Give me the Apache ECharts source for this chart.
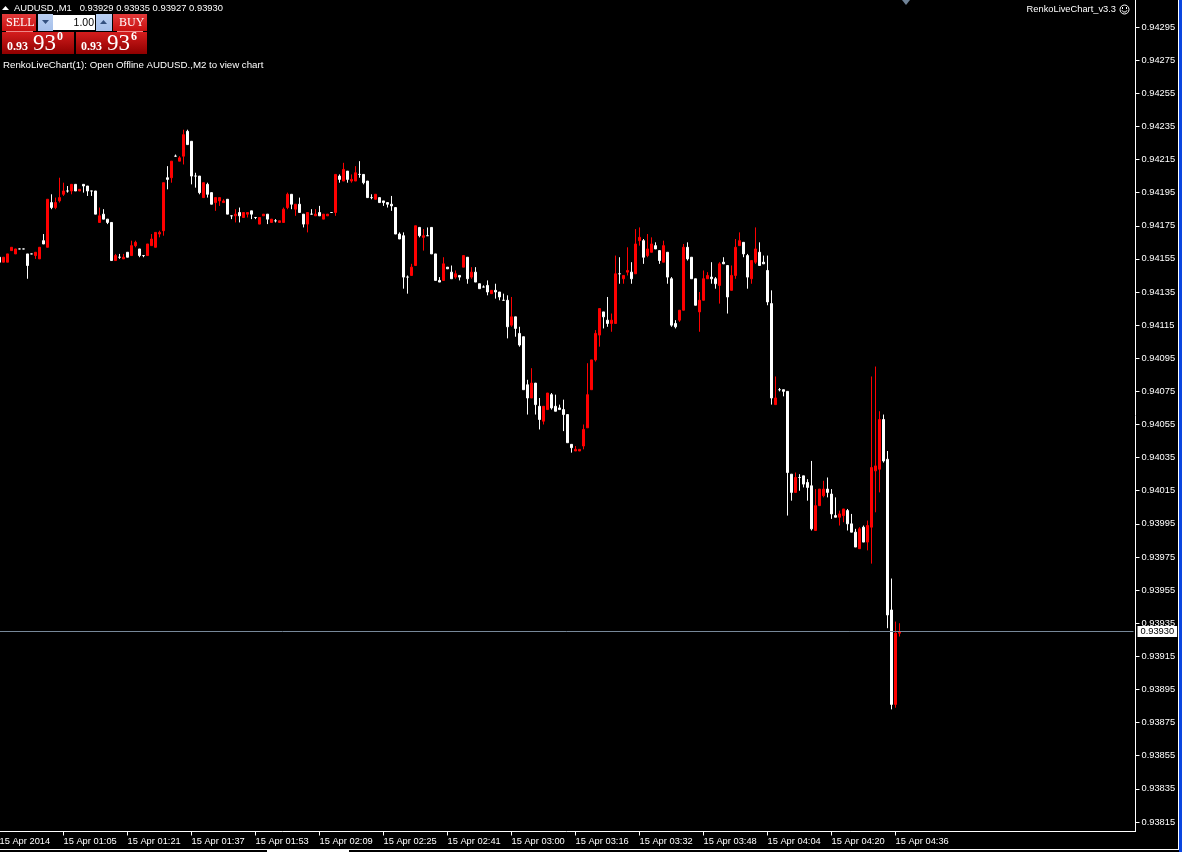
<!DOCTYPE html>
<html>
<head>
<meta charset="utf-8">
<style>html,body{margin:0;padding:0;background:#000;overflow:hidden}#c{width:1182px;height:852px}</style>
<script src="https://cdn.jsdelivr.net/npm/echarts@6/dist/echarts.min.js"></script>
</head>
<body>
<div id="c"></div>
<script>
const opens=[0.94156,0.94153,0.94153,0.94160,0.94158,0.94161,0.94161,0.94158,0.94158,0.94157,0.94155,0.94166,0.94162,0.94189,0.94186,0.94190,0.94194,0.94196,0.94196,0.94200,0.94196,0.94200,0.94199,0.94196,0.94196,0.94177,0.94182,0.94179,0.94177,0.94154,0.94156,0.94155,0.94159,0.94157,0.94163,0.94161,0.94157,0.94157,0.94163,0.94162,0.94170,0.94172,0.94204,0.94204,0.94217,0.94214,0.94217,0.94232,0.94226,0.94205,0.94205,0.94192,0.94200,0.94195,0.94189,0.94190,0.94189,0.94191,0.94181,0.94181,0.94183,0.94180,0.94182,0.94184,0.94180,0.94176,0.94181,0.94182,0.94177,0.94178,0.94177,0.94177,0.94186,0.94194,0.94185,0.94188,0.94182,0.94176,0.94182,0.94181,0.94183,0.94179,0.94181,0.94183,0.94183,0.94205,0.94202,0.94208,0.94202,0.94202,0.94206,0.94206,0.94202,0.94192,0.94191,0.94192,0.94190,0.94189,0.94188,0.94186,0.94170,0.94169,0.94144,0.94145,0.94151,0.94174,0.94168,0.94169,0.94174,0.94158,0.94142,0.94142,0.94150,0.94147,0.94144,0.94145,0.94150,0.94156,0.94144,0.94147,0.94140,0.94138,0.94139,0.94134,0.94136,0.94135,0.94130,0.94130,0.94115,0.94120,0.94110,0.94108,0.94079,0.94071,0.94080,0.94066,0.94057,0.94064,0.94073,0.94066,0.94065,0.94064,0.94061,0.94043,0.94039,0.94039,0.94042,0.94053,0.94076,0.94094,0.94109,0.94123,0.94118,0.94116,0.94116,0.94146,0.94143,0.94147,0.94147,0.94146,0.94166,0.94166,0.94157,0.94159,0.94163,0.94160,0.94153,0.94159,0.94143,0.94116,0.94118,0.94124,0.94162,0.94156,0.94143,0.94123,0.94130,0.94143,0.94144,0.94143,0.94139,0.94153,0.94151,0.94136,0.94145,0.94163,0.94165,0.94157,0.94143,0.94153,0.94159,0.94153,0.94148,0.94128,0.94067,0.94076,0.94076,0.94075,0.94025,0.94014,0.94023,0.94024,0.94020,0.94018,0.93991,0.94006,0.94012,0.94016,0.94013,0.94000,0.93999,0.94000,0.94003,0.93995,0.93990,0.93980,0.93993,0.93984,0.93993,0.94027,0.94028,0.94058,0.94034,0.93943,0.93886,0.93929];
const closes=[0.94153,0.94156,0.94158,0.94162,0.94161,0.94161,0.94161,0.94151,0.94158,0.94159,0.94162,0.94164,0.94191,0.94186,0.94189,0.94192,0.94196,0.94196,0.94200,0.94196,0.94197,0.94199,0.94196,0.94196,0.94182,0.94181,0.94179,0.94177,0.94154,0.94157,0.94156,0.94156,0.94156,0.94163,0.94165,0.94157,0.94157,0.94164,0.94167,0.94171,0.94171,0.94201,0.94203,0.94214,0.94217,0.94216,0.94230,0.94224,0.94205,0.94205,0.94195,0.94201,0.94194,0.94188,0.94192,0.94192,0.94190,0.94182,0.94181,0.94182,0.94181,0.94183,0.94183,0.94182,0.94180,0.94180,0.94182,0.94179,0.94179,0.94178,0.94178,0.94185,0.94194,0.94188,0.94188,0.94183,0.94176,0.94183,0.94182,0.94182,0.94181,0.94182,0.94182,0.94183,0.94206,0.94203,0.94209,0.94203,0.94203,0.94207,0.94206,0.94201,0.94192,0.94192,0.94194,0.94189,0.94189,0.94188,0.94187,0.94170,0.94167,0.94144,0.94144,0.94150,0.94175,0.94169,0.94169,0.94169,0.94158,0.94142,0.94141,0.94152,0.94149,0.94143,0.94146,0.94144,0.94157,0.94143,0.94147,0.94141,0.94137,0.94138,0.94135,0.94136,0.94135,0.94132,0.94130,0.94114,0.94120,0.94113,0.94103,0.94076,0.94071,0.94080,0.94067,0.94058,0.94066,0.94074,0.94065,0.94063,0.94064,0.94061,0.94044,0.94041,0.94040,0.94040,0.94052,0.94073,0.94094,0.94110,0.94125,0.94120,0.94116,0.94118,0.94146,0.94146,0.94145,0.94148,0.94143,0.94164,0.94168,0.94156,0.94161,0.94164,0.94161,0.94154,0.94163,0.94144,0.94115,0.94114,0.94124,0.94162,0.94155,0.94143,0.94127,0.94130,0.94143,0.94145,0.94143,0.94140,0.94152,0.94152,0.94132,0.94145,0.94162,0.94166,0.94158,0.94144,0.94154,0.94161,0.94151,0.94152,0.94129,0.94071,0.94071,0.94076,0.94075,0.94026,0.94014,0.94023,0.94023,0.94019,0.94017,0.93992,0.94006,0.94016,0.94016,0.94014,0.94001,0.93999,0.94001,0.94004,0.93995,0.93990,0.93981,0.93992,0.93984,0.93994,0.94029,0.94030,0.94058,0.94033,0.93940,0.93886,0.93929,0.93930];
const lows=[0.94153,0.94153,0.94153,0.94160,0.94158,0.94161,0.94161,0.94143,0.94158,0.94155,0.94155,0.94164,0.94162,0.94185,0.94185,0.94189,0.94193,0.94195,0.94194,0.94196,0.94196,0.94195,0.94193,0.94193,0.94182,0.94177,0.94179,0.94176,0.94154,0.94154,0.94155,0.94155,0.94156,0.94157,0.94162,0.94156,0.94156,0.94157,0.94163,0.94162,0.94168,0.94169,0.94197,0.94201,0.94217,0.94214,0.94212,0.94224,0.94200,0.94198,0.94194,0.94192,0.94192,0.94188,0.94184,0.94187,0.94189,0.94182,0.94179,0.94177,0.94177,0.94180,0.94180,0.94179,0.94179,0.94176,0.94181,0.94176,0.94177,0.94177,0.94177,0.94177,0.94185,0.94185,0.94181,0.94183,0.94174,0.94171,0.94182,0.94181,0.94181,0.94179,0.94181,0.94183,0.94181,0.94201,0.94202,0.94201,0.94201,0.94202,0.94204,0.94200,0.94192,0.94191,0.94191,0.94189,0.94187,0.94186,0.94184,0.94170,0.94167,0.94137,0.94134,0.94145,0.94151,0.94168,0.94160,0.94169,0.94158,0.94142,0.94141,0.94142,0.94149,0.94143,0.94143,0.94142,0.94150,0.94140,0.94143,0.94141,0.94137,0.94138,0.94133,0.94134,0.94131,0.94130,0.94130,0.94107,0.94114,0.94108,0.94102,0.94076,0.94061,0.94071,0.94061,0.94052,0.94055,0.94064,0.94064,0.94063,0.94064,0.94051,0.94044,0.94038,0.94039,0.94039,0.94040,0.94053,0.94076,0.94093,0.94102,0.94113,0.94114,0.94111,0.94116,0.94140,0.94140,0.94145,0.94140,0.94146,0.94163,0.94152,0.94156,0.94159,0.94161,0.94152,0.94153,0.94140,0.94114,0.94113,0.94117,0.94124,0.94154,0.94143,0.94127,0.94111,0.94130,0.94143,0.94140,0.94137,0.94128,0.94152,0.94122,0.94136,0.94143,0.94163,0.94156,0.94137,0.94140,0.94152,0.94151,0.94152,0.94127,0.94067,0.94067,0.94075,0.94072,0.94000,0.94009,0.94014,0.94015,0.94017,0.94009,0.93991,0.93991,0.94006,0.94011,0.94011,0.93998,0.93999,0.93994,0.93996,0.93991,0.93990,0.93981,0.93980,0.93984,0.93979,0.93971,0.94002,0.94014,0.94032,0.93932,0.93883,0.93884,0.93927];
const highs=[0.94156,0.94156,0.94158,0.94162,0.94161,0.94161,0.94161,0.94158,0.94158,0.94159,0.94162,0.94170,0.94191,0.94194,0.94192,0.94204,0.94201,0.94199,0.94200,0.94200,0.94197,0.94200,0.94199,0.94196,0.94196,0.94186,0.94185,0.94179,0.94177,0.94158,0.94158,0.94158,0.94159,0.94166,0.94166,0.94161,0.94157,0.94164,0.94170,0.94171,0.94172,0.94201,0.94211,0.94214,0.94218,0.94217,0.94233,0.94233,0.94226,0.94207,0.94205,0.94201,0.94201,0.94195,0.94192,0.94192,0.94191,0.94191,0.94181,0.94185,0.94186,0.94183,0.94183,0.94184,0.94180,0.94180,0.94182,0.94182,0.94179,0.94179,0.94178,0.94186,0.94195,0.94194,0.94188,0.94192,0.94182,0.94183,0.94185,0.94185,0.94187,0.94182,0.94182,0.94183,0.94206,0.94206,0.94213,0.94208,0.94206,0.94211,0.94214,0.94206,0.94202,0.94194,0.94194,0.94192,0.94190,0.94189,0.94193,0.94186,0.94171,0.94171,0.94145,0.94152,0.94175,0.94174,0.94173,0.94174,0.94174,0.94158,0.94144,0.94156,0.94150,0.94151,0.94148,0.94145,0.94157,0.94156,0.94150,0.94150,0.94140,0.94139,0.94142,0.94136,0.94140,0.94135,0.94134,0.94133,0.94132,0.94120,0.94114,0.94108,0.94082,0.94089,0.94080,0.94071,0.94066,0.94074,0.94074,0.94073,0.94067,0.94070,0.94061,0.94043,0.94042,0.94040,0.94055,0.94092,0.94094,0.94112,0.94125,0.94123,0.94132,0.94122,0.94157,0.94156,0.94145,0.94162,0.94153,0.94173,0.94174,0.94167,0.94170,0.94168,0.94165,0.94160,0.94166,0.94159,0.94144,0.94118,0.94124,0.94164,0.94165,0.94156,0.94143,0.94135,0.94148,0.94147,0.94153,0.94144,0.94153,0.94156,0.94151,0.94151,0.94167,0.94171,0.94165,0.94158,0.94154,0.94174,0.94165,0.94157,0.94157,0.94136,0.94084,0.94077,0.94076,0.94075,0.94025,0.94026,0.94025,0.94024,0.94022,0.94033,0.94016,0.94016,0.94021,0.94023,0.94016,0.94011,0.94003,0.94004,0.94004,0.94001,0.93992,0.93993,0.93994,0.93997,0.94084,0.94090,0.94063,0.94061,0.94039,0.93962,0.93936,0.93935];
const priceTicks=[0.94295,0.94275,0.94255,0.94235,0.94215,0.94195,0.94175,0.94155,0.94135,0.94115,0.94095,0.94075,0.94055,0.94035,0.94015,0.93995,0.93975,0.93955,0.93935,0.93915,0.93895,0.93875,0.93855,0.93835,0.93815];
const timeTicks=['15 Apr 2014','15 Apr 01:05','15 Apr 01:21','15 Apr 01:37','15 Apr 01:53','15 Apr 02:09','15 Apr 02:25','15 Apr 02:41','15 Apr 03:00','15 Apr 03:16','15 Apr 03:32','15 Apr 03:48','15 Apr 04:04','15 Apr 04:20','15 Apr 04:36'];
const barsPerTick=16;
const slotCount=284;
const lastPrice=0.93930;
const headerText='AUDUSD.,M1   0.93929 0.93935 0.93927 0.93930';

const categories=[];
for(let i=0;i<slotCount;i++){
  const t=i%barsPerTick===0?timeTicks[i/barsPerTick]:undefined;
  categories.push(t||'');
}
const hasTick=i=>categories[i]!=='';
const candles=opens.map((o,i)=>{
  const value=[o,closes[i],lows[i],highs[i]];
  return o===closes[i]?{value,itemStyle:{color:'#fff',borderColor:'#fff',color0:'#fff',borderColor0:'#fff'}}:{value};
});

const FONT='"Liberation Sans"';
const txt=(x,y,text,size,o)=>Object.assign({type:'text',x,y,silent:true,style:Object.assign({text,fill:'#fff',font:`${size}px ${FONT}`,textVerticalAlign:'middle'},o||{})});
const rect=(x,y,w,h,fill)=>({type:'rect',silent:true,shape:{x,y,width:w,height:h},style:{fill}});
const grad=(a,b)=>({type:'linear',x:0,y:0,x2:0,y2:1,colorStops:[{offset:0,color:a},{offset:1,color:b}]});
const SERIF='"Liberation Serif"';
const quote=(x,w,sup)=>[
  rect(x,32,w,22,grad('#d41d1d','#8f0000')),
  txt(x+5,47,'0.93',12,{font:`bold 12px ${SERIF}`}),
  txt(x+31,43.5,'93',23,{font:`23px ${SERIF}`}),
  txt(x+55,37,sup,12,{font:`bold 12px ${SERIF}`})
];
const graphics=[
  {type:'polygon',silent:true,shape:{points:[[902,0],[910,0],[906,5]]},style:{fill:'#6f8296'}},
  {type:'polygon',silent:true,shape:{points:[[2,10],[9,10],[5.5,6]]},style:{fill:'#fff'}},
  txt(14,8,headerText,9.4),
  rect(2,14,34,17,grad('#e23a3a','#c80f0f')),
  txt(6,23,'SELL',12,{font:`12px ${SERIF}`}),
  rect(6,31,27,1,'#e88'),
  rect(113,14,34,17,grad('#e23a3a','#c80f0f')),
  txt(119,23,'BUY',12,{font:`12px ${SERIF}`}),
  rect(117,31,26,1,'#e88'),
  rect(38,14,15,17,grad('#b9cff2','#a6c0ea')),
  rect(53,15,42,15,'#fff'),
  rect(96,14,16,17,grad('#b9cff2','#a6c0ea')),
  {type:'polygon',silent:true,shape:{points:[[42,20],[49,20],[45.5,24]]},style:{fill:'#33507f'}},
  {type:'polygon',silent:true,shape:{points:[[100,24],[107,24],[103.5,20]]},style:{fill:'#33507f'}},
  txt(94,23,'1.00',10.5,{textAlign:'right',fill:'#000'}),
  ...quote(2,72,'0'),
  ...quote(76,71,'6'),
  txt(3,65,'RenkoLiveChart(1): Open Offline AUDUSD.,M2 to view chart',9.7),
  txt(1116,9,'RenkoLiveChart_v3.3',9.3,{textAlign:'right'}),
  {type:'circle',silent:true,shape:{cx:1124.5,cy:9.5,r:4.5},style:{fill:'none',stroke:'#fff',lineWidth:1}},
  rect(1122,7,1,2,'#fff'),rect(1126,7,1,2,'#fff'),
  {type:'arc',silent:true,shape:{cx:1124.5,cy:9.5,r:2.6,startAngle:0.3,endAngle:2.84},style:{fill:'none',stroke:'#fff',lineWidth:1}},
  rect(1133,831,3,1,'#fff'),
  rect(0,849,1179,1,'#fff'),
  rect(267,850,82,2,'#fff'),
  rect(1178,0,1,850,'#fff'),
  rect(1179,0,3,852,'#0a46e0')
];

const chart=echarts.init(document.getElementById('c'),null,{renderer:'canvas'});
chart.setOption({
  animation:false,
  backgroundColor:'#000',
  grid:{left:-2.5,top:0,width:1136,height:831.5,containLabel:false,outerBoundsMode:'none'},
  xAxis:{
    type:'category',data:categories,boundaryGap:true,
    axisLine:{show:true,lineStyle:{color:'#fff',width:1}},
    axisTick:{show:true,alignWithLabel:true,interval:(i)=>hasTick(i),length:4,lineStyle:{color:'#fff'}},
    axisLabel:{show:true,interval:(i)=>hasTick(i),color:'#fff',fontFamily:'Liberation Sans',fontSize:9.3,align:'left',margin:5,hideOverlap:false},
    splitLine:{show:false}
  },
  yAxis:{
    type:'value',position:'right',offset:2,scale:true,
    min:0.93809264,max:0.94311302,
    axisLine:{show:true,onZero:false,lineStyle:{color:'#fff',width:1}},
    axisTick:{show:true,length:4,customValues:priceTicks,lineStyle:{color:'#fff'}},
    axisLabel:{show:true,customValues:priceTicks,color:'#fff',fontFamily:'Liberation Sans',fontSize:9.3,margin:6,formatter:v=>v.toFixed(5),hideOverlap:false,showMinLabel:true,showMaxLabel:true},
    splitLine:{show:false}
  },
  series:[{
    type:'candlestick',
    data:candles,
    barWidth:2,
    clip:true,
    itemStyle:{color:'#ff0000',color0:'#ffffff',borderColor:'#ff0000',borderColor0:'#ffffff',borderWidth:1},
    markLine:{
      silent:true,symbol:'none',animation:false,precision:5,
      lineStyle:{color:'#778899',type:'solid',width:1},
      label:{show:true,position:'end',distance:[4,0],formatter:()=>lastPrice.toFixed(5),color:'#000',backgroundColor:'#fff',fontFamily:'Liberation Sans',fontSize:9.3,padding:[1,3,1,3]},
      emphasis:{disabled:true},
      data:[{yAxis:lastPrice}]
    }
  }],
  graphic:{elements:graphics}
});
</script>
</body>
</html>
